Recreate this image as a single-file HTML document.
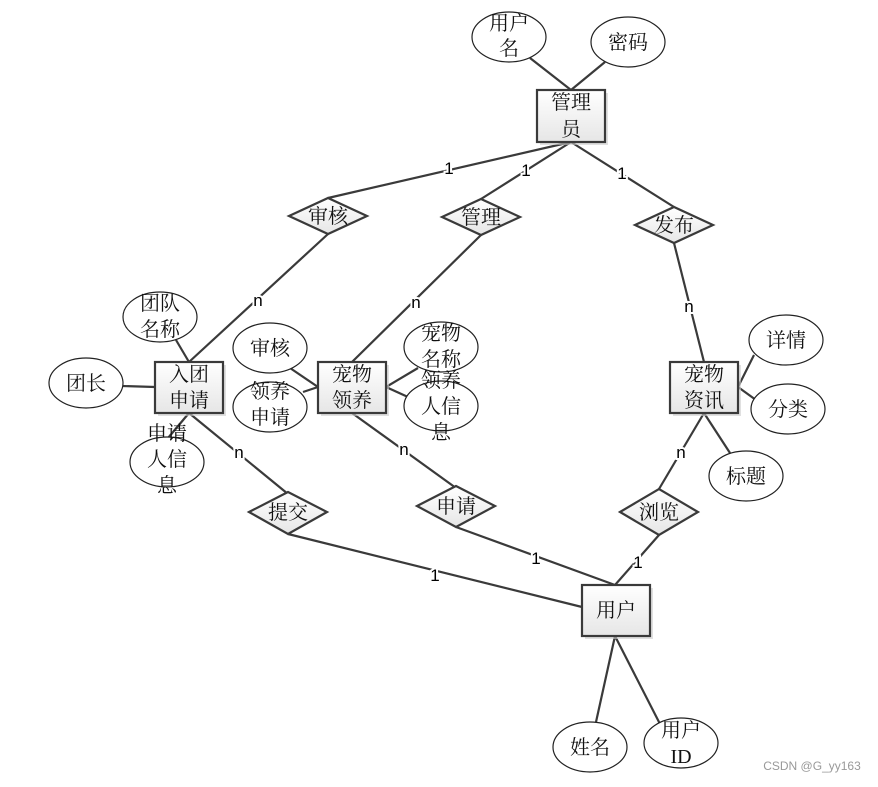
<!DOCTYPE html>
<html><head><meta charset="utf-8"><style>
html,body{margin:0;padding:0;background:#fff;}
svg text{font-family:"Liberation Serif","Noto Serif CJK SC",serif;font-size:20px;fill:#111;}
svg text.c{font-family:"Liberation Sans",sans-serif;font-size:17px;fill:#000;stroke:#fff;stroke-width:4px;paint-order:stroke;}
</style></head><body>
<svg width="878" height="782" viewBox="0 0 878 782" xmlns="http://www.w3.org/2000/svg">
<defs>
<linearGradient id="g" x1="0" y1="0" x2="0" y2="1"><stop offset="0" stop-color="#fff"/><stop offset="1" stop-color="#e6e6e6"/></linearGradient>
</defs>
<g stroke="#3a3a3a" stroke-width="2.2" fill="none">
<line x1="530" y1="58" x2="571" y2="90"/><line x1="605" y1="62" x2="571" y2="90"/>
<line x1="571" y1="142" x2="328" y2="198"/><line x1="571" y1="142" x2="481" y2="199"/><line x1="571" y1="142" x2="674" y2="207"/>
<line x1="328" y1="234" x2="189" y2="362"/><line x1="481" y1="235" x2="352" y2="362"/><line x1="674" y1="243" x2="704" y2="362"/>
<line x1="189" y1="413" x2="288" y2="494"/><line x1="288" y1="534" x2="582" y2="607"/>
<line x1="352" y1="413" x2="456" y2="488"/><line x1="456" y1="527" x2="615" y2="585"/>
<line x1="704" y1="413" x2="659" y2="489"/><line x1="659" y1="535" x2="615" y2="585"/>
<line x1="615" y1="636" x2="596" y2="722"/><line x1="615" y1="636" x2="660" y2="724"/>
<line x1="176" y1="340" x2="189" y2="362"/><line x1="122" y1="386" x2="155" y2="387"/><line x1="168" y1="438" x2="189" y2="413"/>
<line x1="290" y1="368" x2="318" y2="387"/><line x1="303" y1="392" x2="318" y2="387"/>
<line x1="418" y1="368" x2="386" y2="387"/><line x1="408" y1="397" x2="386" y2="387"/>
<line x1="754" y1="355" x2="738" y2="387"/><line x1="756" y1="400" x2="738" y2="387"/><line x1="730" y1="453" x2="704" y2="413"/>
</g>
<g fill="#fff" stroke="#222" stroke-width="1.2">
<ellipse cx="509" cy="37" rx="37" ry="25"/><ellipse cx="628" cy="42" rx="37" ry="25"/>
<ellipse cx="160" cy="317" rx="37" ry="25"/><ellipse cx="86" cy="383" rx="37" ry="25"/><ellipse cx="167" cy="462" rx="37" ry="25"/>
<ellipse cx="270" cy="348" rx="37" ry="25"/><ellipse cx="270" cy="407" rx="37" ry="25"/>
<ellipse cx="441" cy="347" rx="37" ry="25"/><ellipse cx="441" cy="406" rx="37" ry="25"/>
<ellipse cx="786" cy="340" rx="37" ry="25"/><ellipse cx="788" cy="409" rx="37" ry="25"/><ellipse cx="746" cy="476" rx="37" ry="25"/>
<ellipse cx="590" cy="747" rx="37" ry="25"/><ellipse cx="681" cy="743" rx="37" ry="25"/>
</g>
<g fill="url(#g)" stroke="#3a3a3a" stroke-width="2.2">
<polygon points="289,216 328,198 367,216 328,234"/>
<polygon points="442,217 481,199 520,217 481,235"/>
<polygon points="635,225 674,207 713,225 674,243"/>
<polygon points="249,512 288,492 327,512 288,534"/>
<polygon points="417,506 456,486 495,506 456,527"/>
<polygon points="620,512 659,489 698,512 659,535"/>
</g>
<g fill="#ccc" opacity="0.6">
<rect x="540" y="93" width="68" height="52"/><rect x="158" y="365" width="68" height="51"/><rect x="321" y="365" width="68" height="51"/><rect x="673" y="365" width="68" height="51"/><rect x="585" y="588" width="68" height="51"/>
</g>
<g fill="url(#g)" stroke="#3a3a3a" stroke-width="2.2">
<rect x="537" y="90" width="68" height="52"/><rect x="155" y="362" width="68" height="51"/><rect x="318" y="362" width="68" height="51"/><rect x="670" y="362" width="68" height="51"/><rect x="582" y="585" width="68" height="51"/>
</g>
<g text-anchor="middle">
<text x="509" y="30">用户</text><text x="509" y="55">名</text>
<text x="628" y="49">密码</text>
<text x="571" y="109">管理</text><text x="571" y="136">员</text>
<text x="328" y="223">审核</text><text x="481" y="224">管理</text><text x="674" y="232">发布</text>
<text x="160" y="310">团队</text><text x="160" y="336">名称</text>
<text x="86" y="390">团长</text>
<text x="189" y="381">入团</text><text x="189" y="407">申请</text>
<text x="167" y="440">申请</text><text x="167" y="466">人信</text><text x="167" y="492">息</text>
<text x="270" y="355">审核</text><text x="270" y="398">领养</text><text x="270" y="424">申请</text>
<text x="352" y="381">宠物</text><text x="352" y="407">领养</text>
<text x="441" y="340">宠物</text><text x="441" y="366">名称</text>
<text x="441" y="387">领养</text><text x="441" y="413">人信</text><text x="441" y="439">息</text>
<text x="704" y="381">宠物</text><text x="704" y="407">资讯</text>
<text x="786" y="347">详情</text><text x="788" y="416">分类</text><text x="746" y="483">标题</text>
<text x="288" y="519">提交</text><text x="456" y="513">申请</text><text x="659" y="519">浏览</text>
<text x="616" y="617">用户</text>
<text x="590" y="754">姓名</text><text x="681" y="737">用户</text><text x="681" y="763">ID</text>
</g>
<g text-anchor="middle">
<text class="c" x="449" y="174">1</text><text class="c" x="526" y="176">1</text><text class="c" x="622" y="179">1</text>
<text class="c" x="258" y="306">n</text><text class="c" x="416" y="308">n</text><text class="c" x="689" y="312">n</text>
<text class="c" x="239" y="458">n</text><text class="c" x="404" y="455">n</text><text class="c" x="681" y="458">n</text>
<text class="c" x="435" y="581">1</text><text class="c" x="536" y="564">1</text><text class="c" x="638" y="568">1</text>
</g>
<text x="812" y="770" text-anchor="middle" style="font-family:'Liberation Sans',sans-serif;font-size:12px;fill:#999">CSDN @G_yy163</text>
</svg>
</body></html>
